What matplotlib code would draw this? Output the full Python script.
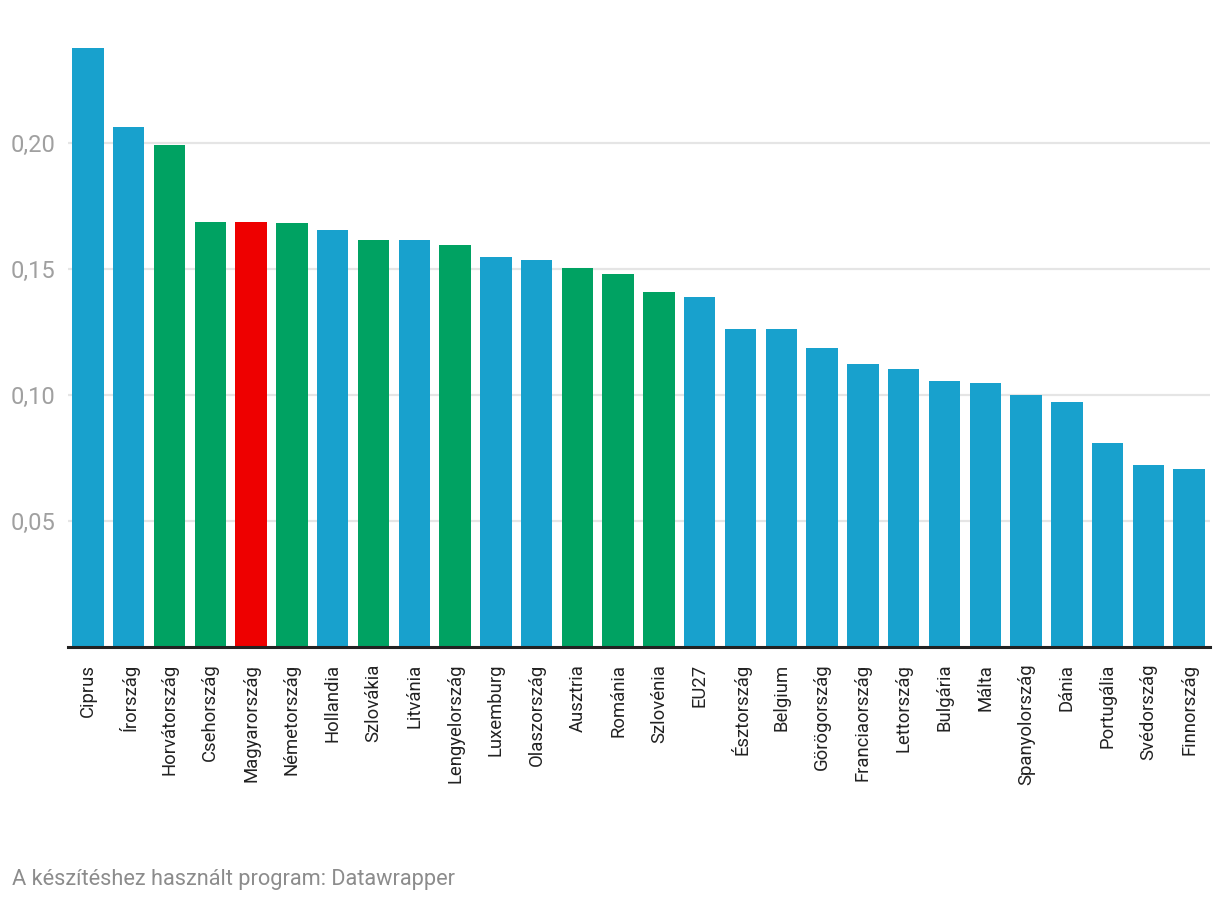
import matplotlib
matplotlib.use("Agg")
import matplotlib.pyplot as plt

countries = ["Ciprus", "Írország", "Horvátország", "Csehország", "Magyarország",
             "Németország", "Hollandia", "Szlovákia", "Litvánia", "Lengyelország",
             "Luxemburg", "Olaszország", "Ausztria", "Románia", "Szlovénia", "EU27",
             "Észtország", "Belgium", "Görögország", "Franciaország", "Lettország",
             "Bulgária", "Málta", "Spanyolország", "Dánia", "Portugália",
             "Svédország", "Finnország"]
values = [0.2377, 0.2063, 0.1992, 0.1687, 0.1687, 0.1683, 0.1655, 0.1615,
          0.1615, 0.1595, 0.1548, 0.1536, 0.1504, 0.1480, 0.1409, 0.1389,
          0.1262, 0.1262, 0.1187, 0.1123, 0.1103, 0.1056, 0.1048, 0.1000,
          0.0972, 0.0810, 0.0722, 0.0706]
groups = ["b", "b", "g", "g", "r", "g", "b", "g", "b", "g", "b", "b", "g", "g",
          "g", "b", "b", "b", "b", "b", "b", "b", "b", "b", "b", "b", "b", "b"]
yticks = [0.05, 0.10, 0.15, 0.20]
ytick_labels = ["0,05", "0,10", "0,15", "0,20"]

palette = {"b": "#18a1cd", "g": "#00a262", "r": "#ee0000"}
colors = [palette[g] for g in groups]

plt.rcParams['font.family'] = ['Roboto', 'DejaVu Sans']

W, H = 1220, 902
fig = plt.figure(figsize=(W / 100, H / 100), dpi=100)
ymax = 0.24
base_px = 647
top_px = base_px - ymax * 2520
ax = fig.add_axes([68 / W, 1 - base_px / H, (1210 - 68) / W, (base_px - top_px) / H])

x = list(range(len(countries)))
ax.bar(x, values, width=0.77, color=colors, zorder=3)
ax.set_xlim(-0.49, len(countries) - 0.49)
ax.set_ylim(0, ymax)

ax.set_yticks(yticks)
ax.set_yticklabels(ytick_labels)
ax.grid(axis="y", color="#e5e5e5", linewidth=1.6, zorder=0)
ax.tick_params(axis="y", length=0, pad=9, labelsize=17, labelcolor="#a0a0a0")
ax.set_xticks(x)
ax.set_xticklabels(countries, rotation=90, va="top", ha="center")
ax.tick_params(axis="x", length=0, pad=12, labelsize=13.3, labelcolor="#222222")

for s in ["top", "right", "left"]:
    ax.spines[s].set_visible(False)
ax.spines["bottom"].set_color("#222222")
ax.spines["bottom"].set_linewidth(2.2)
ax.spines["bottom"].set_zorder(4)

fig.text(12 / W, 1 - 879 / H, "A készítéshez használt program: Datawrapper",
         fontsize=15.7, color="#8c8c8c", va="center", ha="left")

fig.savefig("out.png", dpi=100, facecolor="white")
